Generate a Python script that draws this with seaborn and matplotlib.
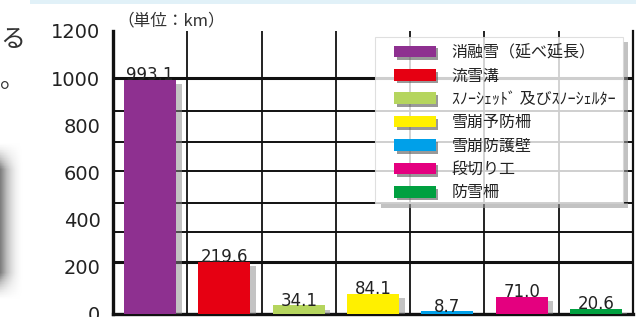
import numpy as np
import pandas as pd
import matplotlib.pyplot as plt
import matplotlib.patheffects as pe
from matplotlib.patches import Patch, Rectangle
import seaborn as sns

# -----------------------------
# Data
# -----------------------------
categories = [
    "消融雪（延べ延長）",
    "流雪溝",
    "ｽﾉｰｼｪｯﾄﾞ 及びｽﾉｰｼｪﾙﾀｰ",
    "雪崩予防柵",
    "雪崩防護壁",
    "段切り工",
    "防雪柵",
]
values = [993.1, 219.6, 34.1, 84.1, 8.7, 71.0, 20.6]
value_labels = ["993.1", "219.6", "34.1", "84.1", "8.7", "71.0", "20.6"]
colors = ["#8e3090", "#e60012", "#b5d55e", "#fff000", "#00a0e9", "#e4007f", "#00a040"]
y_ticks = [0, 200, 400, 600, 800, 1000, 1200]
# horizontal rules as drawn in the original graphic (not aligned with ticks)
grid_levels = [860, 730, 605, 470, 345]
bold_levels = [1000, 220]

df = pd.DataFrame({"item": categories, "km": values})

# -----------------------------
# Style
# -----------------------------
sns.set_theme(style="white")
plt.rcParams["font.family"] = ["DejaVu Sans", "Noto Sans CJK JP"]
jp_font = ["Noto Sans CJK JP", "DejaVu Sans"]

W, H = 636, 317
fig = plt.figure(figsize=(W / 100, H / 100), dpi=100)
ax_l, ax_r, ax_t, ax_b = 113, 633, 31, 313.5
ax = fig.add_axes([ax_l / W, (H - ax_b) / H, (ax_r - ax_l) / W, (ax_b - ax_t) / H])


def ax_x(px):
    return (px - ax_l) / (ax_r - ax_l)


def ax_y(py):
    return (ax_b - py) / (ax_b - ax_t)


# -----------------------------
# Bars
# -----------------------------
sns.barplot(
    data=df, x="item", y="km", hue="item",
    palette=colors, width=0.7, legend=False, ax=ax,
    saturation=1, zorder=3,
)
shadow = [pe.SimplePatchShadow(offset=(4, -3), shadow_rgbFace="#888888", alpha=0.5), pe.Normal()]
for bar in ax.patches:
    bar.set_path_effects(shadow)
    bar.set_linewidth(0)

for i, (v, lab) in enumerate(zip(values, value_labels)):
    ax.annotate(lab, (i, v), xytext=(0, -3), textcoords="offset points",
                ha="center", va="bottom", fontsize=12, color="#222222", zorder=4)

# -----------------------------
# Grid
# -----------------------------
ax.set_xlim(-0.5, 6.5)
ax.set_ylim(0, 1200)
for x in np.arange(0.5, 6.5, 1):
    ax.axvline(x, color="#111111", lw=1.3, zorder=1)
for y in grid_levels:
    ax.axhline(y, color="#111111", lw=1.4, zorder=1)
for y in bold_levels:
    ax.axhline(y, color="#111111", lw=2.2, zorder=1)

ax.spines["top"].set_visible(False)
ax.spines["left"].set_linewidth(2.4)
ax.spines["bottom"].set_linewidth(2.4)
ax.spines["right"].set_linewidth(1.6)
for side in ["left", "bottom", "right"]:
    ax.spines[side].set_color("#111111")

ax.set_yticks(y_ticks)
ax.set_yticklabels([str(t) for t in y_ticks], fontsize=14, color="#222222")
ax.tick_params(axis="y", length=0, pad=9)
ax.set_xticks([])
ax.set_xlabel("")
ax.set_ylabel("")

# -----------------------------
# Legend (box drawn separately so it can be larger than its content)
# -----------------------------
bx0, bx1, by0, by1 = ax_x(375), ax_x(623), ax_y(203), ax_y(37)
sh = 5 / (ax_r - ax_l), 5 / (ax_b - ax_t)
ax.add_patch(Rectangle((bx1, by0 + sh[1] * 0.2), sh[0], by1 - by0 - sh[1] * 1.2,
                       transform=ax.transAxes, facecolor="#9a9a9a", alpha=0.6,
                       edgecolor="none", zorder=4.8))
ax.add_patch(Rectangle((bx0 + sh[0] * 1.2, by0 - sh[1]), bx1 - bx0 - sh[0] * 0.2, sh[1],
                       transform=ax.transAxes, facecolor="#9a9a9a", alpha=0.6,
                       edgecolor="none", zorder=4.8))
ax.add_patch(Rectangle((bx0, by0), bx1 - bx0, by1 - by0, transform=ax.transAxes,
                       facecolor="white", alpha=0.8, edgecolor="#d8d8d8", lw=0.8,
                       zorder=4.9))

handles = [Patch(facecolor=c, edgecolor="none") for c in colors]
leg = ax.legend(
    handles, categories, loc="upper left", bbox_to_anchor=(ax_x(394), ax_y(44)),
    prop={"family": jp_font, "size": 11.5}, frameon=False,
    handlelength=2.6, handleheight=0.75, handletextpad=1.0,
    labelspacing=0.4, borderpad=0, borderaxespad=0,
)
leg.set_zorder(5)
for p in leg.get_patches():
    p.set_path_effects([pe.SimplePatchShadow(offset=(2, -2), shadow_rgbFace="#555555", alpha=0.6), pe.Normal()])
for t in leg.get_texts():
    t.set_color("#222222")

# -----------------------------
# Surrounding page fragments
# -----------------------------
fig.text(117 / W, 1 - 21 / H, "（単位：km）", family=jp_font, fontsize=12,
         color="#333333", va="center", ha="left")
fig.text(0, 1 - 40 / H, "る", family=jp_font, fontsize=18,
         color="#333333", va="center", ha="left")
fig.text(0, 1 - 80 / H, "。", family=jp_font, fontsize=18,
         color="#333333", va="center", ha="left")
fig.patches.append(Rectangle((30 / W, 1 - 4 / H), 1, 4 / H, transform=fig.transFigure,
                             facecolor="#e1f1f8", edgecolor="none"))

grad_ax = fig.add_axes([0, 17 / H, 26 / W, 158 / H])
gx = np.linspace(0, 1, 40)
row = np.clip(1 - gx * 1.15, 0, 1) ** 1.3
gy = np.linspace(0, 1, 60)
col = np.clip(np.minimum(gy * 6, (1 - gy) * 6), 0, 1)
grad_ax.imshow(np.outer(col, row), cmap="Greys", vmin=0, vmax=1.7, aspect="auto")
grad_ax.set_axis_off()

fig.savefig("out.png", dpi=100)
